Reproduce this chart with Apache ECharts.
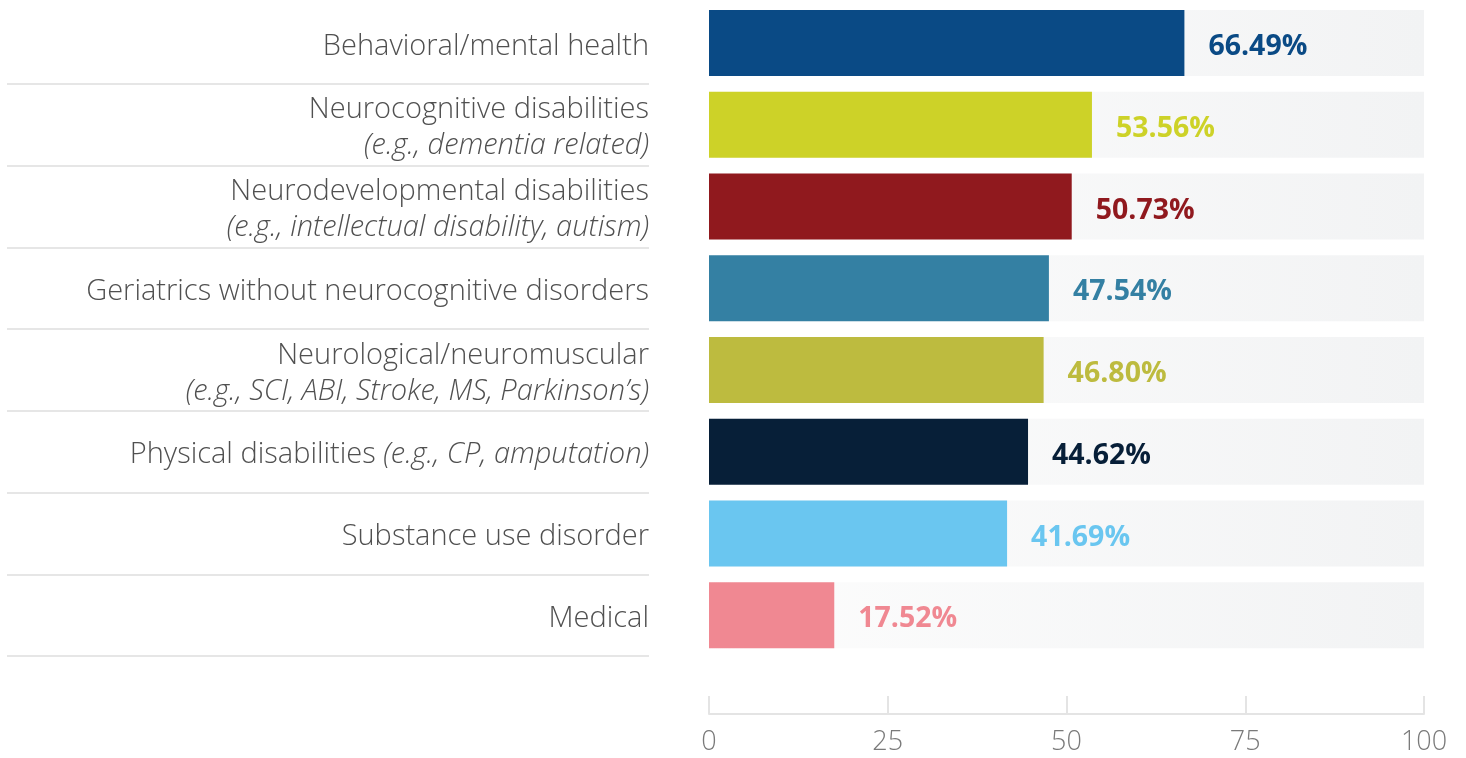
<!DOCTYPE html>
<html>
<head>
<meta charset="utf-8">
<script src="https://cdn.jsdelivr.net/npm/echarts@6/dist/echarts.min.js"></script>
<style>
  html, body { margin: 0; padding: 0; background: #fff; }
  #chart { width: 1466px; height: 758px; }
</style>
</head>
<body>
<div id="chart"></div>
<script>
// categories, top to bottom; text in brackets is shown in italics
const categories = [
  'Behavioral/mental health',
  'Neurocognitive disabilities\n(e.g., dementia related)',
  'Neurodevelopmental disabilities\n(e.g., intellectual disability, autism)',
  'Geriatrics without neurocognitive disorders',
  'Neurological/neuromuscular\n(e.g., SCI, ABI, Stroke, MS, Parkinson’s)',
  'Physical disabilities (e.g., CP, amputation)',
  'Substance use disorder',
  'Medical',
];
const values = [66.49, 53.56, 50.73, 47.54, 46.80, 44.62, 41.69, 17.52];
const barColors = ['#0a4a85', '#cdd228', '#90191e', '#3480a3', '#bdbb3f', '#071f38', '#6ac6f0', '#f08892'];
const xTicks = [0, 25, 50, 75, 100];

const chart = echarts.init(document.getElementById('chart'));

const option = {
  animation: false,
  grid: [
    { left: 709, right: 42, top: 2, bottom: 102 }, // bars
    { left: 7, width: 642, top: 2, bottom: 102 },  // separator lines under labels
  ],
  xAxis: [
    {
      type: 'value',
      gridIndex: 0,
      min: xTicks[0],
      max: xTicks[xTicks.length - 1],
      interval: 25,
      offset: 58,
      axisLine: { show: true, lineStyle: { color: '#e4e4e4', width: 2 } },
      axisTick: { show: true, inside: true, length: 18, lineStyle: { color: '#e4e4e4', width: 2 } },
      splitLine: { show: false },
      axisLabel: {
        margin: 15,
        color: '#7a7a7a',
        fontSize: 27,
        fontFamily: 'Open Sans',
        fontWeight: 300,
      },
    },
    { type: 'value', gridIndex: 1, show: false },
  ],
  yAxis: [
    {
      type: 'category',
      gridIndex: 0,
      inverse: true,
      data: categories,
      axisLine: { show: false },
      axisTick: { show: false },
      axisLabel: {
        margin: 60,
        align: 'right',
        color: '#505050',
        fontSize: 29,
        lineHeight: 36,
        padding: [7, 0, 0, 0],
        fontFamily: 'Open Sans',
        fontWeight: 300,
        formatter: function (value) {
          // wrap the bracketed part in italics
          return value.split('\n').map(function (line) {
            return line.replace(/\((.*)\)/, '{i|($1)}');
          }).join('\n');
        },
        rich: {
          i: {
            fontStyle: 'italic',
            color: '#505050',
            fontSize: 29,
            lineHeight: 36,
            fontFamily: 'Open Sans',
            fontWeight: 300,
          },
        },
      },
    },
    {
      type: 'category',
      gridIndex: 1,
      inverse: true,
      data: categories,
      axisLine: { show: false },
      axisTick: { show: false },
      axisLabel: { show: false },
      splitLine: {
        show: true,
        interval: function (index) {
          return index !== 0; // no line above the first row
        },
        lineStyle: { color: '#e6e6e6', width: 2 },
      },
    },
  ],
  series: [
    {
      type: 'bar',
      xAxisIndex: 0,
      yAxisIndex: 0,
      barWidth: 66,
      data: values.map(function (v, i) {
        return {
          value: v,
          itemStyle: { color: barColors[i] },
          label: { color: barColors[i] },
        };
      }),
      showBackground: true,
      backgroundStyle: {
        color: new echarts.graphic.LinearGradient(0, 0, 1, 0, [
          { offset: 0, color: '#fdfdfd' },
          { offset: 1, color: '#f2f3f4' },
        ]),
      },
      label: {
        show: true,
        position: 'right',
        distance: 24,
        offset: [0, 4],
        fontSize: 28.5,
        fontWeight: 'bold',
        fontFamily: 'Open Sans',
        formatter: function (p) {
          return p.value.toFixed(2) + '%';
        },
      },
    },
  ],
};

chart.setOption(option);
</script>
</body>
</html>
